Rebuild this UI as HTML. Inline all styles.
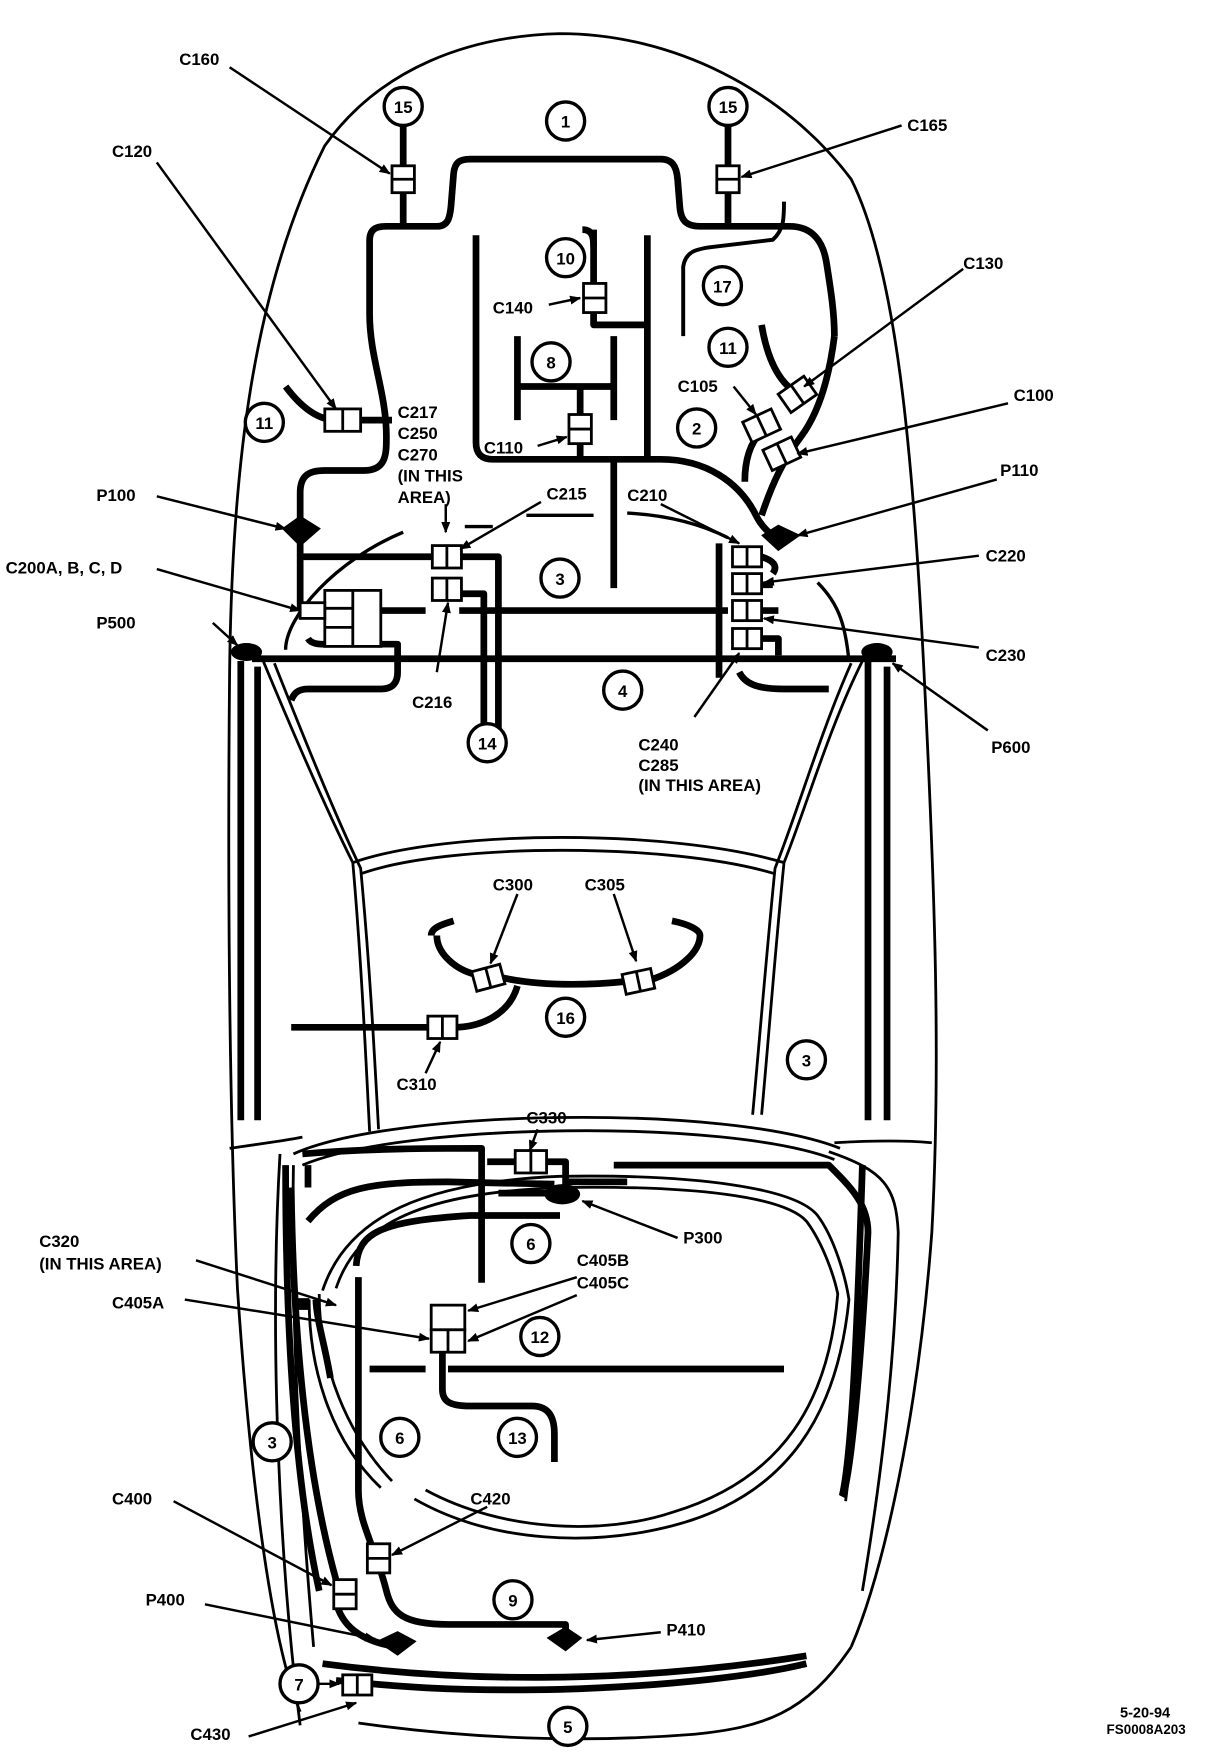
<!DOCTYPE html>
<html><head><meta charset="utf-8"><style>
html,body{margin:0;padding:0;background:#fff}
svg{display:block}
text{font-family:"Liberation Sans",sans-serif;font-weight:bold;fill:#000}
.t{font-size:15px}
.n{font-size:15px;text-anchor:middle}
.h{fill:none;stroke:#000;stroke-width:6;stroke-linecap:butt;stroke-linejoin:round}
.b{fill:none;stroke:#000;stroke-width:2.5}
.a{fill:none;stroke:#000;stroke-width:2.2;marker-end:url(#ar)}
.c{fill:#fff;stroke:#000;stroke-width:2.5}
.k{fill:#fff;stroke:#000;stroke-width:3}
</style></head><body>
<svg width="1232" height="1760" viewBox="0 0 1100 1571" preserveAspectRatio="none" xmlns="http://www.w3.org/2000/svg">
<defs><marker id="ar" markerWidth="10" markerHeight="8" refX="9" refY="4" orient="auto" markerUnits="userSpaceOnUse"><path d="M0,0 L10,4 L0,8 z" fill="#000"/></marker></defs>

<path class="b" d="M268,1528 C240,1460 222,1300 212,1150 C205,1000 203,800 205,600 C207,420 225,260 290,130 C340,60 420,32 500,30 C600,30 700,80 760,160 C800,240 815,400 825,600 C835,800 840,950 832,1100 C820,1260 790,1400 760,1470"/>
<path class="b" d="M320,1538 C420,1552 520,1556 620,1548 C680,1542 720,1530 760,1470"/>
<path class="b" d="M205,1025 C240,1020 255,1018 270,1015 M745,1020 C780,1018 810,1018 832,1020"/>
<path class="b" d="M235,590 C260,650 290,720 315,770 C322,850 326,930 330,1010 M245,592 C270,655 298,725 322,775 C330,860 334,935 338,1008"/>
<path class="b" d="M770,590 C740,650 720,720 700,770 C692,850 686,930 680,995 M760,592 C732,655 712,725 692,775 C684,855 678,930 672,995"/>
<path class="b" d="M315,770 C400,740 600,740 700,770 M322,780 C400,752 600,752 692,780"/>
<path class="b" d="M262,1030 C350,990 650,985 750,1025 M270,1040 C360,1002 650,998 745,1035"/>
<path class="b" d="M268,1540 C250,1400 240,1200 250,1030 M280,1470 C265,1300 260,1150 262,1040"/>
<path class="b" d="M300,1150 C320,1090 380,1065 500,1060 C620,1058 700,1068 720,1090 C735,1110 745,1140 748,1155 C740,1250 700,1320 600,1350 C540,1370 450,1368 380,1330 M288,1152 C310,1085 380,1055 500,1050 C620,1048 710,1060 730,1085 C745,1105 755,1140 758,1160 C748,1260 705,1335 600,1362 C530,1380 440,1378 370,1338"/>
<path class="b" d="M285,1155 C285,1220 310,1280 350,1322 M276,1160 C276,1230 300,1290 340,1328"/>
<path class="b" d="M740,1028 C790,1045 800,1060 802,1100 C800,1200 790,1300 770,1420"/>
<path class="h" d="M215,590 V1000 M230,595 V1000 M775,590 V1000 M792,595 V1000"/>
<path class="h" d="M770,1040 C765,1200 760,1300 752,1335"/>

<path class="h" d="M268,472 V440 C268,425 275,420 290,420 L325,420 C345,420 345,405 345,390 C345,350 330,320 330,280 L330,215 C330,205 335,202 345,202 L390,202 C400,202 402,195 403,180 L405,155 C406,145 410,142 420,142 L590,142 C600,142 604,148 605,160 L607,185 C608,198 614,202 625,202 L705,202 C725,202 735,215 738,235 C742,260 745,280 745,300"/>
<path class="h" d="M360,112 V200 M650,112 V200"/>
<path class="h" d="M255,345 C270,365 285,375 300,375 M320,375 L350,375"/>
<path class="h" d="M425,210 V395 C425,405 430,410 440,410 L590,410 C630,410 660,430 675,460 C680,470 688,478 695,480"/>
<path class="h" d="M578,210 V410 M548,410 V525 M530,205 V290 H578 M462,300 V375 M462,345 H548 M548,300 V375 M518,345 V410"/>
<path class="h" d="M520,205 C528,205 530,210 530,220"/>
<path class="b" d="M610,300 V238 C612,225 620,222 640,220 L690,214 C700,205 700,195 700,180" style="stroke-width:3.5"/>
<path class="h" d="M680,290 C685,320 695,340 710,350 M745,300 C740,340 730,370 715,390 C700,410 690,430 680,460"/>
<path class="h" d="M665,430 C665,410 670,395 680,385"/>

<path class="h" d="M268,480 V545 M268,497 H390 M410,497 H445 V650 M410,530 H432 V650 M268,545 H290 M340,545 H380 M410,545 H650 M225,588 H800"/>
<path class="h" d="M275,570 C278,575 285,575 290,575 M340,575 H355 V600 C355,612 348,615 340,615 H275 C265,615 262,620 260,625"/>
<path class="h" d="M642,485 V605 M660,600 C665,610 675,615 700,615 H740"/>
<path class="h" d="M680,497 C690,500 695,505 690,512 M680,522 H690 M680,545 H695 M680,570 H695 V585"/>
<path class="b" d="M255,580 C255,550 300,500 360,475 M415,470 H440 M470,460 H530 M560,458 C600,460 630,470 650,480 M730,520 C750,540 755,560 758,590" style="stroke-width:3"/>

<path class="h" d="M270,1030 C330,1025 390,1025 430,1025 V1145 M435,1037 H505 V1065 H445 M505,1055 H560 M548,1040 H740 C760,1060 775,1075 775,1100 C770,1200 760,1320 752,1336"/>
<path class="h" d="M275,1090 C300,1060 330,1055 400,1055 L495,1057"/>
<path class="h" d="M318,1130 C320,1100 340,1090 420,1085 L500,1085"/>
<path class="h" d="M320,1140 V1330 C320,1360 335,1380 345,1420 C350,1440 360,1450 400,1450 H505 V1462"/>
<path class="h" d="M260,1060 C262,1200 275,1320 300,1410 M300,1430 C305,1450 320,1465 355,1470"/>
<path class="h" d="M255,1040 C255,1200 265,1330 285,1420"/>
<path class="h" d="M330,1222 H380 M400,1222 H700 M395,1205 V1240 C395,1250 400,1255 420,1255 H475 C490,1255 495,1265 495,1280 V1305"/>
<path class="h" d="M288,1485 C400,1500 550,1505 720,1478 M300,1500 C350,1505 400,1510 500,1508 C600,1505 680,1495 720,1485"/>
<path class="h" d="M275,1040 V1060 M282,1160 C283,1180 290,1200 295,1230"/>
<path class="h" d="M260,917 H385 M405,917 C430,917 455,905 462,880 M390,835 C390,850 405,865 425,870 M445,872 C480,880 520,880 560,876 M580,875 C610,865 625,848 625,835"/>
<path class="h" d="M385,835 C385,828 395,825 405,822 M600,822 C615,825 625,830 625,835"/>

<path d="M254,472 L268,462 L284,472 L268,486 Z" fill="#000" stroke="#000" stroke-width="3"/>
<path d="M682,478 L695,470 L712,478 L695,490 Z" fill="#000" stroke="#000" stroke-width="3"/>
<ellipse cx="220" cy="582" rx="14" ry="8" fill="#000"/>
<ellipse cx="783" cy="582" rx="14" ry="8" fill="#000"/>
<ellipse cx="502" cy="1066" rx="16" ry="9" fill="#000"/>
<path d="M336,1465 L355,1456 L372,1465 L355,1478 Z" fill="#000"/>
<path d="M488,1462 L505,1452 L520,1462 L505,1474 Z" fill="#000"/>

<rect class="c" x="350" y="148" width="20" height="24"/><line x1="350" y1="160" x2="370" y2="160" stroke="#000" stroke-width="2.5"/>
<rect class="c" x="640" y="148" width="20" height="24"/><line x1="640" y1="160" x2="660" y2="160" stroke="#000" stroke-width="2.5"/>
<rect class="c" x="290" y="365" width="32" height="20"/><line x1="306" y1="365" x2="306" y2="385" stroke="#000" stroke-width="2.5"/>
<rect class="c" x="521" y="253" width="20" height="26"/><line x1="521" y1="266" x2="541" y2="266" stroke="#000" stroke-width="2.5"/>
<rect class="c" x="508" y="370" width="20" height="26"/><line x1="508" y1="383" x2="528" y2="383" stroke="#000" stroke-width="2.5"/>
<g transform="rotate(-35 712 352)"><rect class="c" x="698" y="342" width="28" height="20"/><line x1="712" y1="342" x2="712" y2="362" stroke="#000" stroke-width="2.5"/></g>
<g transform="rotate(-25 680 380)"><rect class="c" x="666" y="370" width="28" height="20"/><line x1="680" y1="370" x2="680" y2="390" stroke="#000" stroke-width="2.5"/></g>
<g transform="rotate(-25 698 405)"><rect class="c" x="684" y="395" width="28" height="20"/><line x1="698" y1="395" x2="698" y2="415" stroke="#000" stroke-width="2.5"/></g>
<rect class="c" x="386" y="487" width="26" height="20"/><line x1="399" y1="487" x2="399" y2="507" stroke="#000" stroke-width="2.5"/>
<rect class="c" x="386" y="516" width="26" height="20"/><line x1="399" y1="516" x2="399" y2="536" stroke="#000" stroke-width="2.5"/>
<rect class="c" x="290" y="527" width="50" height="50"/><line x1="315" y1="527" x2="315" y2="577" stroke="#000" stroke-width="2.5"/><line x1="290" y1="543" x2="315" y2="543" stroke="#000" stroke-width="2.5"/><line x1="290" y1="560" x2="315" y2="560" stroke="#000" stroke-width="2.5"/>
<rect class="c" x="268" y="538" width="22" height="14"/>
<g stroke="#000" stroke-width="2.5">
<rect class="c" x="654" y="488" width="26" height="18"/><line x1="667" y1="488" x2="667" y2="506"/>
<rect class="c" x="654" y="512" width="26" height="18"/><line x1="667" y1="512" x2="667" y2="530"/>
<rect class="c" x="654" y="536" width="26" height="18"/><line x1="667" y1="536" x2="667" y2="554"/>
<rect class="c" x="654" y="561" width="26" height="18"/><line x1="667" y1="561" x2="667" y2="579"/>
<g transform="rotate(-15 435 873)"><rect class="c" x="423" y="864" width="26" height="18"/><line x1="436" y1="864" x2="436" y2="882"/></g>
<g transform="rotate(-12 570 876)"><rect class="c" x="557" y="867" width="26" height="18"/><line x1="570" y1="867" x2="570" y2="885"/></g>
<rect class="c" x="382" y="907" width="26" height="20"/><line x1="395" y1="907" x2="395" y2="927"/>
<rect class="c" x="460" y="1027" width="28" height="20"/><line x1="474" y1="1027" x2="474" y2="1047"/>
<rect class="c" x="385" y="1165" width="30" height="22"/>
<rect class="c" x="385" y="1187" width="30" height="20"/><line x1="400" y1="1187" x2="400" y2="1207"/>
<rect class="c" x="328" y="1378" width="20" height="26"/><line x1="328" y1="1391" x2="348" y2="1391"/>
<rect class="c" x="298" y="1410" width="20" height="26"/><line x1="298" y1="1423" x2="318" y2="1423"/>
<rect class="c" x="306" y="1495" width="26" height="18"/><line x1="319" y1="1495" x2="319" y2="1513"/>
<rect x="265" y="1160" width="10" height="8" fill="#000"/>
</g>

<g>
<circle class="k" cx="360" cy="95" r="17"/><text class="n" x="360" y="101">15</text>
<circle class="k" cx="650" cy="95" r="17"/><text class="n" x="650" y="101">15</text>
<circle class="k" cx="505" cy="108" r="17"/><text class="n" x="505" y="114">1</text>
<circle class="k" cx="505" cy="230" r="17"/><text class="n" x="505" y="236">10</text>
<circle class="k" cx="645" cy="255" r="17"/><text class="n" x="645" y="261">17</text>
<circle class="k" cx="492" cy="323" r="17"/><text class="n" x="492" y="329">8</text>
<circle class="k" cx="650" cy="310" r="17"/><text class="n" x="650" y="316">11</text>
<circle class="k" cx="622" cy="382" r="17"/><text class="n" x="622" y="388">2</text>
<circle class="k" cx="236" cy="377" r="17"/><text class="n" x="236" y="383">11</text>
<circle class="k" cx="500" cy="516" r="17"/><text class="n" x="500" y="522">3</text>
<circle class="k" cx="556" cy="616" r="17"/><text class="n" x="556" y="622">4</text>
<circle class="k" cx="435" cy="663" r="17"/><text class="n" x="435" y="669">14</text>
<circle class="k" cx="505" cy="908" r="17"/><text class="n" x="505" y="914">16</text>
<circle class="k" cx="720" cy="946" r="17"/><text class="n" x="720" y="952">3</text>
<circle class="k" cx="474" cy="1110" r="17"/><text class="n" x="474" y="1116">6</text>
<circle class="k" cx="482" cy="1193" r="17"/><text class="n" x="482" y="1199">12</text>
<circle class="k" cx="357" cy="1283" r="17"/><text class="n" x="357" y="1289">6</text>
<circle class="k" cx="462" cy="1283" r="17"/><text class="n" x="462" y="1289">13</text>
<circle class="k" cx="243" cy="1287" r="17"/><text class="n" x="243" y="1293">3</text>
<circle class="k" cx="458" cy="1428" r="17"/><text class="n" x="458" y="1434">9</text>
<circle class="k" cx="267" cy="1503" r="17"/><text class="n" x="267" y="1509">7</text>
<circle class="k" cx="507" cy="1541" r="17"/><text class="n" x="507" y="1547">5</text>
</g>

<path class="a" d="M205,60 L348,155"/>
<path class="a" d="M140,145 L300,365"/>
<path class="a" d="M805,112 L662,158"/>
<path class="a" d="M860,240 L718,345"/>
<path class="a" d="M900,360 L712,405"/>
<path class="a" d="M655,345 L675,370"/>
<path class="a" d="M490,272 L518,266"/>
<path class="a" d="M480,398 L506,390"/>
<path class="a" d="M890,428 L712,478"/>
<path class="a" d="M140,443 L255,472"/>
<path class="a" d="M874,496 L682,520"/>
<path class="a" d="M874,578 L682,552"/>
<path class="a" d="M190,556 L212,576"/>
<path class="a" d="M882,652 L797,592"/>
<path class="a" d="M140,508 L268,545"/>
<path class="a" d="M483,448 L411,490"/>
<path class="a" d="M590,450 L660,485"/>
<path class="a" d="M398,450 L398,475"/>
<path class="a" d="M390,600 L400,538"/>
<path class="a" d="M620,640 L660,583"/>
<path class="a" d="M462,798 L438,860"/>
<path class="a" d="M548,798 L568,858"/>
<path class="a" d="M380,958 L393,930"/>
<path class="a" d="M480,1008 L473,1027"/>
<path class="a" d="M605,1105 L520,1072"/>
<path class="a" d="M175,1125 L300,1165"/>
<path class="a" d="M165,1160 L383,1195"/>
<path class="a" d="M515,1140 L418,1170"/>
<path class="a" d="M515,1156 L418,1197"/>
<path class="a" d="M435,1345 L350,1388"/>
<path class="a" d="M155,1340 L296,1415"/>
<path class="a" d="M183,1432 L335,1463"/>
<path class="a" d="M590,1457 L524,1464"/>
<path class="a" d="M222,1550 L318,1520"/>
<path class="a" d="M285,1503 L303,1503"/>
<path class="b" d="M755,1340 C760,1300 765,1250 765,1200"/>

<text class="t" x="160" y="58">C160</text>
<text class="t" x="100" y="140">C120</text>
<text class="t" x="810" y="117">C165</text>
<text class="t" x="860" y="240">C130</text>
<text class="t" x="905" y="358">C100</text>
<text class="t" x="605" y="350">C105</text>
<text class="t" x="440" y="280">C140</text>
<text class="t" x="432" y="405">C110</text>
<text class="t" x="355" y="373">C217</text>
<text class="t" x="355" y="392">C250</text>
<text class="t" x="355" y="411">C270</text>
<text class="t" x="355" y="430">(IN THIS</text>
<text class="t" x="355" y="449">AREA)</text>
<text class="t" x="488" y="446">C215</text>
<text class="t" x="560" y="447">C210</text>
<text class="t" x="86" y="447">P100</text>
<text class="t" x="893" y="425">P110</text>
<text class="t" x="880" y="501">C220</text>
<text class="t" x="880" y="590">C230</text>
<text class="t" x="5" y="512">C200A, B, C, D</text>
<text class="t" x="86" y="561">P500</text>
<text class="t" x="885" y="672">P600</text>
<text class="t" x="368" y="632">C216</text>
<text class="t" x="570" y="670">C240</text>
<text class="t" x="570" y="688">C285</text>
<text class="t" x="570" y="706">(IN THIS AREA)</text>
<text class="t" x="440" y="795">C300</text>
<text class="t" x="522" y="795">C305</text>
<text class="t" x="354" y="973">C310</text>
<text class="t" x="470" y="1003">C330</text>
<text class="t" x="610" y="1110">P300</text>
<text class="t" x="515" y="1130">C405B</text>
<text class="t" x="515" y="1150">C405C</text>
<text class="t" x="35" y="1113">C320</text>
<text class="t" x="35" y="1133">(IN THIS AREA)</text>
<text class="t" x="100" y="1168">C405A</text>
<text class="t" x="420" y="1343">C420</text>
<text class="t" x="100" y="1343">C400</text>
<text class="t" x="130" y="1433">P400</text>
<text class="t" x="595" y="1460">P410</text>
<text class="t" x="170" y="1553">C430</text>
<text class="t" x="1000" y="1533" style="font-size:13px">5-20-94</text>
<text class="t" x="988" y="1548" style="font-size:12px">FS0008A203</text>
</svg>
</body></html>
